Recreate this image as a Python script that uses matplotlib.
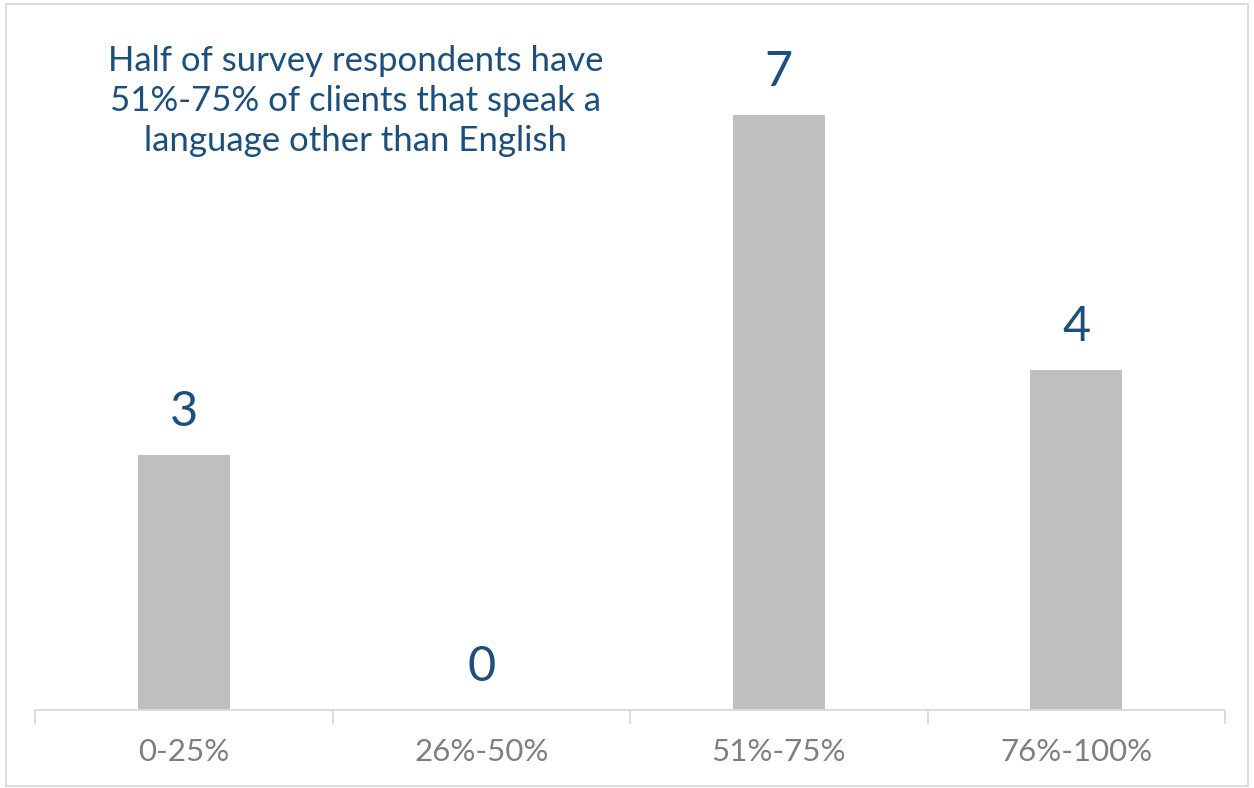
import matplotlib.pyplot as plt
from matplotlib.patches import Rectangle

categories = ['0-25%', '26%-50%', '51%-75%', '76%-100%']
counts = [3, 0, 7, 4]
title_text = 'Half of survey respondents have\n51%-75% of clients that speak a\nlanguage other than English'

blue = '#1d4f7c'
plt.rcParams['font.family'] = ['Lato', 'DejaVu Sans']

fig = plt.figure(figsize=(12.54, 7.88), dpi=100)
W, H = 1254, 788
ax = fig.add_axes([35 / W, 1 - 710 / H, 1190 / W, 680 / H])

x = range(len(categories))
ax.bar(x, counts, width=0.31, color='#bfbfbf', zorder=2)

for xi, v in zip(x, counts):
    ax.annotate(str(v), (xi, v), xytext=(0, 15), textcoords='offset points',
                ha='center', va='bottom', fontsize=35, color=blue)

ax.set_xlim(-0.5, len(categories) - 0.5)
ax.set_ylim(0, 8)
ax.set_yticks([])
ax.set_xticks(list(x))
ax.set_xticklabels(categories, fontsize=22.5, color='#7f7f7f')
ax.set_xticks([i - 0.5 for i in range(len(categories) + 1)], minor=True)
ax.tick_params(axis='x', which='major', length=0, pad=20)
ax.tick_params(axis='x', which='minor', length=10, width=1.3, color='#d9d9d9', direction='out')
for s in ['left', 'right', 'top']:
    ax.spines[s].set_visible(False)
ax.spines['bottom'].set_color('#d9d9d9')
ax.spines['bottom'].set_linewidth(1.3)

fig.text(356 / W, 1 - 101 / H, title_text, ha='center', va='center',
         fontsize=25, color=blue, linespacing=1.32)

fig.patches.append(Rectangle((6 / W, 2 / H), 1242 / W, 782 / H, transform=fig.transFigure,
                             fill=False, edgecolor='#d9d9d9', linewidth=1.3))

fig.savefig('out.png', dpi=100)
